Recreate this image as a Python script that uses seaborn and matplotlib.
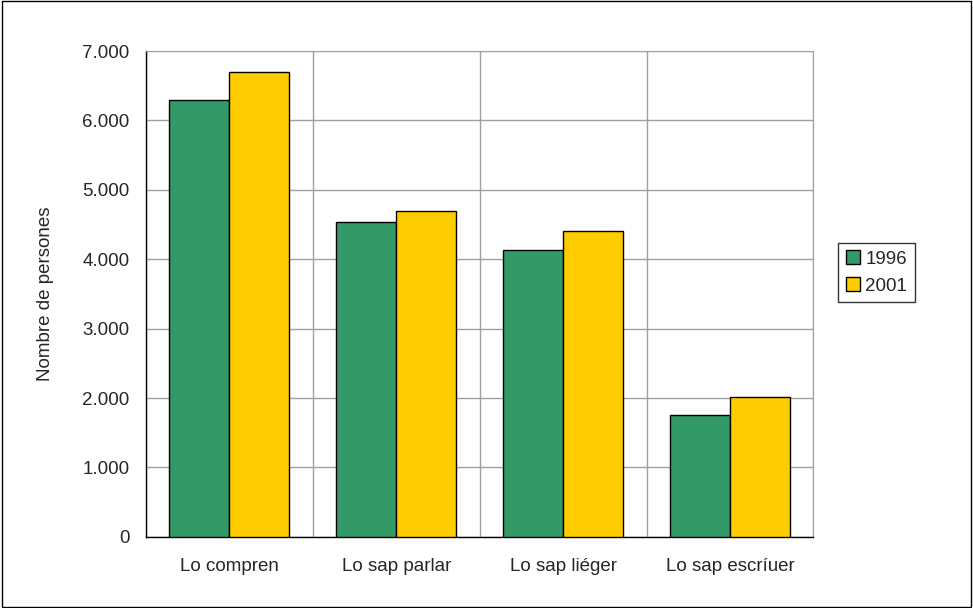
import pandas as pd
import matplotlib.pyplot as plt
import seaborn as sns
from matplotlib.patches import Rectangle

# dades
categories = ['Lo compren', 'Lo sap parlar', 'Lo sap liéger', 'Lo sap escríuer']
years = ['1996', '2001']
values_1996 = [6300, 4530, 4130, 1760]
values_2001 = [6700, 4700, 4410, 2020]

df = pd.DataFrame({
    'Categoria': categories * 2,
    'Any': [years[0]] * len(categories) + [years[1]] * len(categories),
    'Valor': values_1996 + values_2001,
})

sns.set_style('white')
plt.rcParams['font.family'] = ['Liberation Sans', 'DejaVu Sans']
fs = 13.5

fig = plt.figure(figsize=(9.73, 6.08), dpi=100)
ax = fig.add_axes([0.150, 0.117, 0.686, 0.799])

sns.barplot(data=df, x='Categoria', y='Valor', hue='Any',
            palette=['#339966', '#FFCC00'], width=0.72,
            edgecolor='black', linewidth=1.0, saturation=1, ax=ax, zorder=3)

ax.set_ylim(0, 7000)
ax.set_xlim(-0.5, 3.5)
ax.set_yticks(range(0, 7001, 1000))
ax.set_yticklabels(['0'] + [f'{v // 1000}.000' for v in range(1000, 7001, 1000)])
ax.set_xticks([i - 0.5 for i in range(5)], minor=True)

ax.grid(axis='y', color='#a0a0a0', linewidth=1, zorder=0)
ax.grid(axis='x', which='minor', color='#a0a0a0', linewidth=1, zorder=0)
ax.tick_params(axis='x', which='major', length=0, pad=15, labelsize=fs)
ax.tick_params(axis='x', which='minor', length=6, width=1, color='black', direction='out')
ax.tick_params(axis='y', length=6, width=1, color='black', direction='out', labelsize=fs, pad=6)

for s in ['top', 'right']:
    ax.spines[s].set_color('#a0a0a0')
for s in ['left', 'bottom']:
    ax.spines[s].set_color('black')
    ax.spines[s].set_linewidth(1)

ax.set_xlabel('')
ax.set_ylabel('Nombre de persones', fontsize=fs, labelpad=20)

leg = ax.legend(loc='center left', bbox_to_anchor=(1.037, 0.544), frameon=True,
                fancybox=False, edgecolor='black', fontsize=fs,
                handlelength=0.75, handleheight=0.75, handletextpad=0.3,
                borderpad=0.4, labelspacing=0.5, borderaxespad=0)
leg.get_frame().set_linewidth(1)

fig.patches.append(Rectangle((0.002, 0.002), 0.996, 0.996, transform=fig.transFigure,
                             fill=False, edgecolor='black', linewidth=1))

fig.savefig('out.png', dpi=100)
